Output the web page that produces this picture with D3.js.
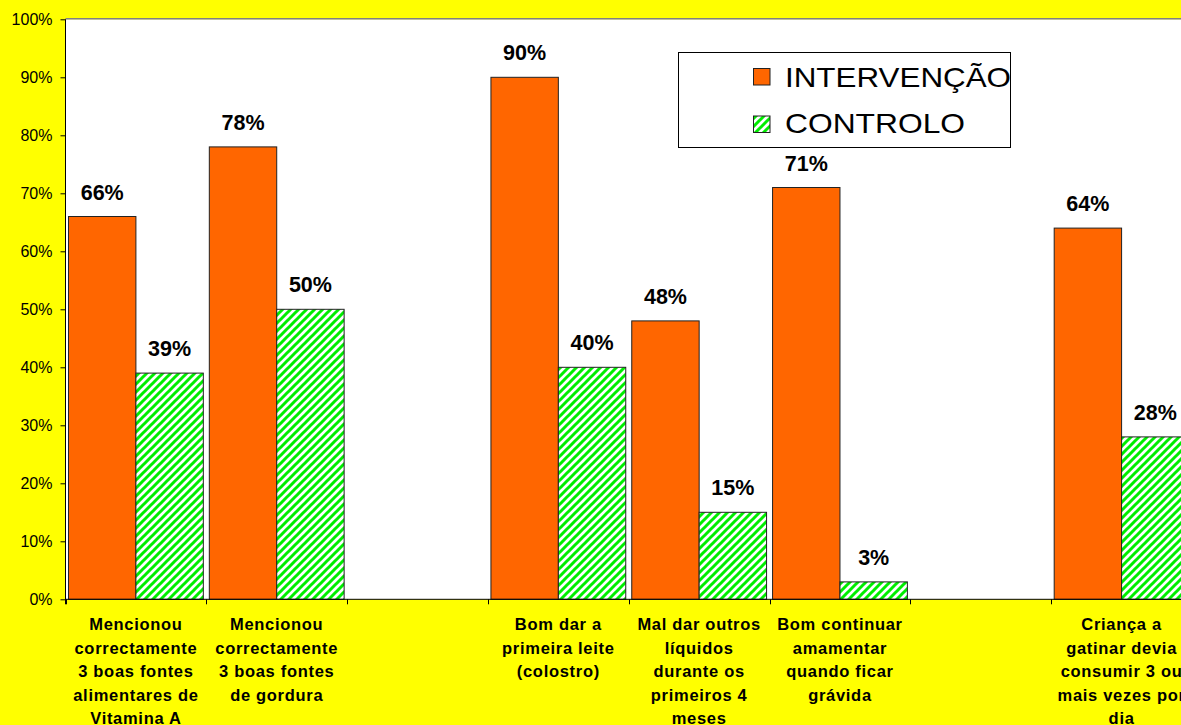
<!DOCTYPE html>
<html>
<head>
<meta charset="utf-8">
<script src="https://cdn.jsdelivr.net/npm/d3@7"></script>
<style>
  html, body { margin: 0; padding: 0; background: #FFFF00; }
  svg { display: block; }
  text { font-family: Arial, "Liberation Sans", sans-serif; }
</style>
</head>
<body>
<div id="chart"></div>
<script>
// Category slots (empty slots keep the gaps between groups of questions)
const categories = [
  ["Mencionou", "correctamente", "3 boas fontes", "alimentares de", "Vitamina A"],
  ["Mencionou", "correctamente", "3 boas fontes", "de gordura"],
  [],
  ["Bom dar a", "primeira leite", "(colostro)"],
  ["Mal dar outros", "líquidos", "durante os", "primeiros 4", "meses"],
  ["Bom continuar", "amamentar", "quando ficar", "grávida"],
  [],
  ["Criança a", "gatinar devia", "consumir 3 ou", "mais vezes por", "dia"]
];
const seriesNames = ["INTERVENÇÃO", "CONTROLO"];
const intervencao = [66, 78, null, 90, 48, 71, null, 64];
const controlo    = [39, 50, null, 40, 15, 3, null, 28];
const yTicks = [0, 10, 20, 30, 40, 50, 60, 70, 80, 90, 100];

const W = 1181, H = 725;
const plot = { left: 65.5, top: 19.3, bottom: 599.3, right: 1192 };

const svg = d3.select("#chart").append("svg")
  .attr("width", W).attr("height", H);

// Diagonal green hatch fill
const defs = svg.append("defs");
const pat = defs.append("pattern")
  .attr("id", "hatch")
  .attr("patternUnits", "userSpaceOnUse")
  .attr("width", 8).attr("height", 8);
pat.append("rect").attr("width", 8).attr("height", 8).attr("fill", "#ffffff");
pat.append("path")
  .attr("d", "M-2,2 L2,-2 M0,8 L8,0 M6,10 L10,6")
  .attr("stroke", "#00EE00").attr("stroke-width", 3);

const clip = defs.append("clipPath").attr("id", "clipAll");
clip.append("rect").attr("x", 0).attr("y", 0).attr("width", W).attr("height", H);

const root = svg.append("g").attr("clip-path", "url(#clipAll)");

// Background
root.append("rect").attr("width", W).attr("height", H).attr("fill", "#FFFF00");

// Plot area
root.append("rect")
  .attr("x", plot.left).attr("y", plot.top)
  .attr("width", plot.right - plot.left).attr("height", plot.bottom - plot.top)
  .attr("fill", "#ffffff");
root.append("line")
  .attr("x1", plot.left).attr("x2", plot.right)
  .attr("y1", plot.top - 0.5).attr("y2", plot.top - 0.5)
  .attr("stroke", "#808080").attr("stroke-width", 1.5);

// Scales
const x0 = d3.scaleBand()
  .domain(d3.range(categories.length))
  .range([plot.left, plot.right])
  .padding(0);
const x1 = d3.scaleBand()
  .domain(seriesNames)
  .range([3, x0.bandwidth() - 3])
  .padding(0);
const y = d3.scaleLinear().domain([0, 100]).range([plot.bottom, plot.top]);

const seriesValues = { "INTERVENÇÃO": intervencao, "CONTROLO": controlo };
const fills = { "INTERVENÇÃO": "#FF6600", "CONTROLO": "url(#hatch)" };

const rows = [];
seriesNames.forEach(s => {
  seriesValues[s].forEach((v, i) => {
    if (v !== null) rows.push({ s, i, v });
  });
});

// Bars
root.append("g").selectAll("rect")
  .data(rows)
  .join("rect")
  .attr("x", d => x0(d.i) + x1(d.s))
  .attr("y", d => y(d.v))
  .attr("width", x1.bandwidth())
  .attr("height", d => y(0) - y(d.v))
  .attr("fill", d => fills[d.s])
  .attr("stroke", "#222")
  .attr("stroke-width", 1);

// Value labels
root.append("g").selectAll("text")
  .data(rows)
  .join("text")
  .attr("x", d => x0(d.i) + x1(d.s) + x1.bandwidth() / 2)
  .attr("y", d => y(d.v) - 17)
  .attr("text-anchor", "middle")
  .attr("font-size", "21.5px")
  .attr("font-weight", "bold")
  .attr("fill", "#000")
  .text(d => d.v + "%");

// Y axis
const yAxis = d3.axisLeft(y)
  .tickValues(yTicks)
  .tickFormat(d => d + "%")
  .tickSize(5)
  .tickPadding(8);
const gy = root.append("g")
  .attr("transform", `translate(${plot.left},0)`)
  .call(yAxis);
gy.select(".domain").attr("stroke", "#000").attr("d", `M0,${plot.top}V${plot.bottom + 5}`);
gy.selectAll(".tick line").attr("stroke", "#000");
gy.selectAll(".tick text")
  .attr("font-size", "16px")
  .attr("font-family", "Arial, 'Liberation Sans', sans-serif")
  .attr("fill", "#000");

// X axis (ticks at slot boundaries)
const boundaries = d3.range(categories.length + 1).map(i =>
  i < categories.length ? x0(i) : x0(categories.length - 1) + x0.bandwidth());
const gx = root.append("g");
gx.append("line")
  .attr("x1", plot.left).attr("x2", plot.right)
  .attr("y1", plot.bottom).attr("y2", plot.bottom)
  .attr("stroke", "#000").attr("stroke-width", 1);
gx.selectAll("line.tk")
  .data(boundaries)
  .join("line")
  .attr("class", "tk")
  .attr("x1", d => Math.round(d) + 0.5).attr("x2", d => Math.round(d) + 0.5)
  .attr("y1", plot.bottom).attr("y2", plot.bottom + 5)
  .attr("stroke", "#000");

// Category labels
const catG = gx.selectAll("text.cat")
  .data(categories)
  .join("text")
  .attr("class", "cat")
  .attr("text-anchor", "middle")
  .attr("font-size", "16.5px")
  .attr("font-weight", "bold")
  .attr("letter-spacing", "0.7px")
  .attr("fill", "#000");
catG.each(function(lines, i) {
  const cx = x0(i) + x0.bandwidth() / 2;
  d3.select(this).selectAll("tspan")
    .data(lines)
    .join("tspan")
    .attr("x", cx)
    .attr("y", (d, k) => 630 + k * 23.5)
    .text(d => d);
});

// Legend
const lg = root.append("g");
lg.append("rect")
  .attr("x", 678.5).attr("y", 52.5)
  .attr("width", 332).attr("height", 95)
  .attr("fill", "#ffffff").attr("stroke", "#000").attr("stroke-width", 1);
const legendRows = [
  { s: "INTERVENÇÃO", sy: 68.5, ty: 86.7, len: 226 },
  { s: "CONTROLO", sy: 116, ty: 133.3, len: 180 }
];
legendRows.forEach(r => {
  lg.append("rect")
    .attr("x", 753.5).attr("y", r.sy)
    .attr("width", 16.5).attr("height", 16.5)
    .attr("fill", fills[r.s]).attr("stroke", "#222").attr("stroke-width", 1);
  lg.append("text")
    .attr("x", 785).attr("y", r.ty)
    .attr("font-size", "27.5px")
    .attr("textLength", r.len)
    .attr("lengthAdjust", "spacingAndGlyphs")
    .attr("fill", "#000")
    .text(r.s);
});
</script>
</body>
</html>
